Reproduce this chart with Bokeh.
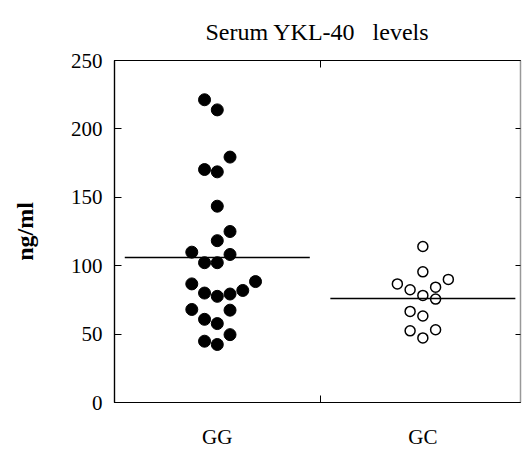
from bokeh.plotting import figure
from bokeh.models import FixedTicker, LinearAxis, ColumnDataSource
from bokeh.embed import file_html
from bokeh.resources import INLINE

# ---- data ----
categories = ["GG", "GC"]
gg_values = [109.9, 86.7, 68.0,
             221.3, 170.3, 102.2, 80.0, 60.8, 44.8,
             213.9, 168.6, 143.5, 118.3, 102.2, 77.6, 57.7, 42.4,
             179.4, 125.0, 108.2, 79.3, 67.5, 49.6,
             81.9,
             88.4]
gg_slot = [-2, -2, -2,
           -1, -1, -1, -1, -1, -1,
           0, 0, 0, 0, 0, 0, 0, 0,
           1, 1, 1, 1, 1, 1,
           2,
           3]
gc_values = [86.7,
             82.4, 66.6, 52.4,
             114.0, 95.5, 78.3, 63.2, 47.2,
             84.3, 75.6, 53.2,
             90.0]
gc_slot = [-2,
           -1, -1, -1,
           0, 0, 0, 0, 0,
           1, 1, 1,
           2]
means = [106.0, 76.0]
y_ticks = [0, 50, 100, 150, 200, 250]

# ---- style ----
SERIF = "Liberation Serif"
SLOT = 0.062
HALF = 0.45

centers = [i + 0.5 for i in range(len(categories))]

p = figure(width=524, height=451, output_backend="svg", toolbar_location=None,
           x_range=(0, 1.975), y_range=(0, 250),
           title="Serum YKL-40\u00a0\u00a0 levels",
           min_border_left=114, min_border_right=4, min_border_top=60, min_border_bottom=43,
           x_axis_location=None, y_axis_location=None)
p.grid.visible = False
p.outline_line_color = "black"
p.outline_line_width = 1.2
p.background_fill_color = "white"
p.border_fill_color = "white"

p.title.text_font = SERIF
p.title.text_font_size = "24px"
p.title.text_font_style = "normal"
p.title.text_color = "black"
p.title.align = "center"
p.title.offset = 0
p.title.standoff = 31

# left axis
left = LinearAxis(ticker=FixedTicker(ticks=y_ticks), axis_label="ng/ml")
left.major_tick_in = 7
left.major_tick_out = 0
left.minor_tick_line_color = None
left.major_label_text_font = SERIF
left.major_label_text_font_size = "21px"
left.major_label_text_color = "black"
left.major_label_standoff = 12
left.axis_label_text_font = SERIF
left.axis_label_text_font_size = "24px"
left.axis_label_text_font_style = "bold"
left.axis_label_text_color = "black"
left.axis_label_standoff = 30
left.axis_line_width = 1.2
p.add_layout(left, "left")

# right axis (ticks only)
right = LinearAxis(ticker=FixedTicker(ticks=y_ticks))
right.major_tick_in = 5
right.major_tick_out = 0
right.major_label_overrides = {t: "" for t in y_ticks}
right.major_label_standoff = 0
right.minor_tick_line_color = None
right.axis_line_color = "#999999"
p.add_layout(right, "right")

# bottom axis with category labels and separator tick
bottom = LinearAxis(ticker=FixedTicker(ticks=centers, minor_ticks=[1.0]))
bottom.major_label_overrides = {c: lab for c, lab in zip(centers, categories)}
bottom.major_tick_line_color = None
bottom.minor_tick_in = 7
bottom.minor_tick_out = 0
bottom.major_label_text_font = SERIF
bottom.major_label_text_font_size = "21px"
bottom.major_label_text_color = "black"
bottom.major_label_standoff = 16
bottom.axis_line_width = 1.2
p.add_layout(bottom, "below")

# top axis: separator tick only
top = LinearAxis(ticker=FixedTicker(ticks=[], minor_ticks=[1.0]))
top.minor_tick_in = 7
top.minor_tick_out = 0
top.major_label_standoff = 0
top.axis_line_width = 1.2
p.add_layout(top, "above")

gg_src = ColumnDataSource(dict(x=[centers[0] + s * SLOT for s in gg_slot], y=gg_values))
gc_src = ColumnDataSource(dict(x=[centers[1] + s * SLOT for s in gc_slot], y=gc_values))

p.scatter("x", "y", source=gg_src, size=12, fill_color="black", line_color="black")
p.scatter("x", "y", source=gc_src, size=10, fill_color="white", line_color="black", line_width=1.5)

p.segment(x0=[c - HALF for c in centers], x1=[c + HALF for c in centers],
          y0=means, y1=means, line_color="black", line_width=1.5)

open("out.html", "w").write(file_html(p, INLINE))
